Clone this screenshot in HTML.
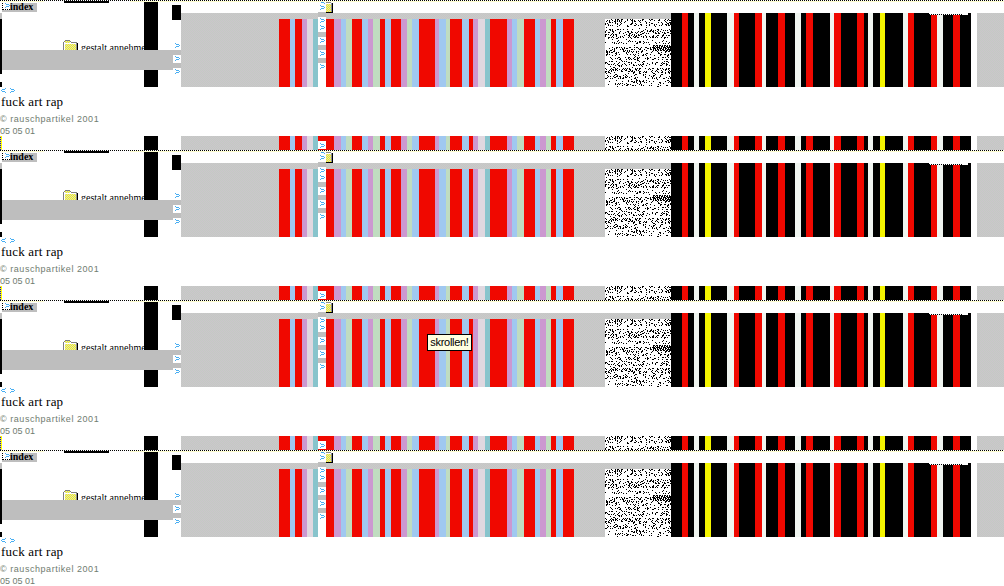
<!DOCTYPE html>
<html><head><meta charset="utf-8"><title>fuck art rap</title>
<style>
html,body{margin:0;padding:0;background:#fff;}
body{width:1004px;height:586px;overflow:hidden;position:relative;font-family:"Liberation Serif",serif;}
.t{position:relative;width:1004px;height:150px;overflow:hidden;}
.t i,.t span,.t svg{position:absolute;display:block;}
.dot{left:0;top:0;width:1004px;height:1px;background:repeating-linear-gradient(90deg,#000 0 1px,#fff 1px 2px);}
.yl{left:1px;top:1px;width:1003px;height:1px;background:linear-gradient(90deg,#ffffd0 0 43px,#fff 43px 129px,#ffffd0 129px);}
.bl{left:64px;top:1px;width:45px;height:2px;background:#000;}
.g1{left:181px;top:13px;width:823px;height:74px;background:repeating-conic-gradient(#ccc5cc 0 25%,#c3cbc3 0 50%) 0 0/2px 2px;}
.g2{left:181px;top:136px;width:823px;height:14px;background:repeating-conic-gradient(#ccc5cc 0 25%,#c3cbc3 0 50%) 0 0/2px 2px;}
.c1{left:279px;top:19px;width:295px;height:68px;background:linear-gradient(90deg,#f00800 0px 11px,#a0c8f0 11px 16px,#f00800 16px 23px,#cc98d0 23px 28px,#e0d8e0 28px 34px,#88c4cc 34px 39px,transparent 39px 47px,#f00800 47px 55px,#cc98d0 55px 62px,#a0c8f0 62px 67px,#c0dcc0 67px 73px,#f00800 73px 83px,#a0c8f0 83px 89px,#cc98d0 89px 94px,#c0dcc0 94px 101px,#f00800 101px 106px,#a0c8f0 106px 112px,#f00800 112px 122px,#cc98d0 122px 128px,#c0dcc0 128px 133px,#a0c8f0 133px 140px,#f00800 140px 156px,#cc98d0 156px 160px,#a0c8f0 160px 167px,#c0dcc0 167px 171px,#f00800 171px 183px,#a0c8f0 183px 190px,#f00800 190px 194px,#cc98d0 194px 199px,#e0d8e0 199px 206px,#88c4cc 206px 211px,#f00800 211px 228px,#cc98d0 228px 233px,#a0c8f0 233px 238px,#c0dcc0 238px 245px,#f00800 245px 256px,#a0c8f0 256px 261px,#cc98d0 261px 267px,#c0dcc0 267px 272px,#f00800 272px 277px,#a0c8f0 277px 284px,#f00800 284px 295px);}
.c2{left:279px;top:136px;width:295px;height:14px;background:linear-gradient(90deg,#f00800 0px 11px,#a0c8f0 11px 16px,#f00800 16px 23px,#cc98d0 23px 28px,#e0d8e0 28px 34px,#88c4cc 34px 39px,#f00800 39px 47px,#f00800 47px 55px,#cc98d0 55px 62px,#a0c8f0 62px 67px,#c0dcc0 67px 73px,#f00800 73px 83px,#a0c8f0 83px 89px,#cc98d0 89px 94px,#c0dcc0 94px 101px,#f00800 101px 106px,#a0c8f0 106px 112px,#f00800 112px 122px,#cc98d0 122px 128px,#c0dcc0 128px 133px,#a0c8f0 133px 140px,#f00800 140px 156px,#cc98d0 156px 160px,#a0c8f0 160px 167px,#c0dcc0 167px 171px,#f00800 171px 183px,#a0c8f0 183px 190px,#f00800 190px 194px,#cc98d0 194px 199px,#e0d8e0 199px 206px,#88c4cc 206px 211px,#f00800 211px 228px,#cc98d0 228px 233px,#a0c8f0 233px 238px,#c0dcc0 238px 245px,#f00800 245px 256px,#a0c8f0 256px 261px,#cc98d0 261px 267px,#c0dcc0 267px 272px,#f00800 272px 277px,#a0c8f0 277px 284px,#f00800 284px 295px);}
.k1{left:671px;top:13px;width:306px;height:74px;background:linear-gradient(90deg,#000 0px 11px,#f00800 11px 17px,#000 17px 23px,#f0f5f0 23px 28px,#000 28px 34px,#f5f500 34px 40px,#000 40px 56px,#f0f5f0 56px 63px,#f00800 63px 68px,#000 68px 84px,#f00800 84px 91px,#f0f5f0 91px 95px,#000 95px 107px,#f00800 107px 114px,#000 114px 124px,#f0f5f0 124px 130px,#000 130px 135px,#f00800 135px 142px,#000 142px 159px,#f0f5f0 159px 163px,#f00800 163px 170px,#000 170px 186px,#f00800 186px 193px,#000 193px 197px,#f0f5f0 197px 202px,#000 202px 209px,#f5f500 209px 214px,#000 214px 232px,#f0f5f0 232px 237px,#f00800 237px 243px,#000 243px 260px,#f00800 260px 266px,#f0f5f0 266px 272px,#000 272px 282px,#f00800 282px 289px,#000 289px 300px,#fff 300px 306px);}
.k2{left:671px;top:136px;width:306px;height:14px;background:linear-gradient(90deg,#000 0px 11px,#f00800 11px 17px,#000 17px 23px,#f0f5f0 23px 28px,#000 28px 34px,#f5f500 34px 40px,#000 40px 56px,#f0f5f0 56px 63px,#f00800 63px 68px,#000 68px 84px,#f00800 84px 91px,#f0f5f0 91px 95px,#000 95px 107px,#f00800 107px 114px,#000 114px 124px,#f0f5f0 124px 130px,#000 130px 135px,#f00800 135px 142px,#000 142px 159px,#f0f5f0 159px 163px,#f00800 163px 170px,#000 170px 186px,#f00800 186px 193px,#000 193px 197px,#f0f5f0 197px 202px,#000 202px 209px,#f5f500 209px 214px,#000 214px 232px,#f0f5f0 232px 237px,#f00800 237px 243px,#000 243px 260px,#f00800 260px 266px,#f0f5f0 266px 272px,#000 272px 282px,#f00800 282px 289px,#000 289px 300px,#fff 300px 306px);}
.nz{left:605px;top:19px;background:#fff;}
.nz2{left:605px;top:136px;background:#fff;}
.wl{left:929px;top:13px;width:39px;height:2px;background:linear-gradient(#fff,#fff) 0 0/39px 1px no-repeat,linear-gradient(#fff,#fff) 34px 1px/5px 1px no-repeat,repeating-linear-gradient(90deg,#000 0 1px,#fff 1px 2px) 0 1px/34px 1px no-repeat;}
.bar{left:144px;top:2px;width:14px;height:85px;background:#000;}
.bar2{left:144px;top:136px;width:14px;height:14px;background:#000;}
.sq{left:172px;top:5px;width:9px;height:15px;background:#000;}
.lg{left:0;top:13px;width:2px;height:6px;background:#c0c0c0;}
.lb{left:0;top:19px;width:2px;height:55px;background:#000;}
.lb2{left:0;top:82px;width:2px;height:5px;background:#000;}
.yb{left:0;top:136px;width:2px;height:14px;background:repeating-linear-gradient(180deg,#ff0 0 1px,#00f 1px 2px);border-right:1px solid #ff0;width:1px;}
.band{left:2px;top:50px;width:179px;height:20px;background:#bebebe;}
.wc{left:173px;top:55px;width:8px;height:8px;background:#fff;box-shadow:0 13px 0 #fff;}
.wc2{left:318px;top:12px;width:8px;height:75px;background:linear-gradient(180deg,#bebebe 0 5px,#fff 5px 20px,#bebebe 20px 25px,#fff 25px 33px,#bebebe 33px 38px,#fff 38px 46px,#bebebe 46px 51px,#fff 51px 75px);}
.idx{left:2px;top:3px;width:35px;height:9px;background:#bebebe;font:bold 10px/7px "Liberation Serif",serif;color:#000;text-indent:8px;white-space:nowrap;}
.ib{position:absolute;left:0;top:0;width:7px;height:6px;background:#fff;border:1px dotted #000;border-top:0;border-right:0;}
.a{color:#4aa8f0;font:11px/11px "Liberation Sans",sans-serif;}
.fold{left:63px;top:40px;}
.yi{left:326px;top:2px;}
.q{overflow:visible;}
.ga{left:81px;top:42px;width:63px;height:8px;overflow:hidden;font:10px/12px "Liberation Serif",serif;white-space:nowrap;color:#000;}
.fi{left:318px;top:141px;width:8px;height:8px;background:#fff;}
.h{left:1px;top:94px;font:13px/16px "Liberation Serif",serif;color:#000;white-space:nowrap;letter-spacing:.2px;}
.cp{left:0;top:113px;font:9px/12px "Liberation Sans",sans-serif;color:#707c70;white-space:nowrap;letter-spacing:.55px;}
.dt{left:0;top:125px;font:9px/12px "Liberation Sans",sans-serif;color:#707c70;white-space:nowrap;}
.tip{position:absolute;left:427px;top:334px;width:43px;height:15px;border:1px solid #000;background:#ffffe1;font:11px/15px "Liberation Sans",sans-serif;color:#000;text-align:center;white-space:nowrap;letter-spacing:-.3px;z-index:5;}
</style></head><body>
<svg width="0" height="0" style="position:absolute"><defs><pattern id="yd" width="2" height="2" patternUnits="userSpaceOnUse"><rect width="2" height="2" fill="#ffff00"/><rect x="1" y="1" width="1" height="1" fill="#d0d0d8"/><rect x="0" y="0" width="1" height="1" fill="#d0d0d8"/></pattern><path id="gt" d="M0 0h1v1h-1zM1 1h3v1h-3zM4 2h1v1h-1zM1 3h3v1h-3zM0 4h1v1h-1z" fill="#48aef2" shape-rendering="crispEdges"/><path id="lt" d="M4 0h1v1h-1zM1 1h3v1h-3zM0 2h1v1h-1zM1 3h3v1h-3zM4 4h1v1h-1z" fill="#48aef2" shape-rendering="crispEdges"/><path id="nz" d="M6 0h1M10 0h1M12 0h2M16 0h2M22 0h1M25 0h1M27 0h1M37 0h2M44 0h1M46 0h2M54 0h1M60 0h1M63 0h1M2 1h1M4 1h1M7 1h1M10 1h1M12 1h1M14 1h1M16 1h1M22 1h1M26 1h2M29 1h1M33 1h1M35 1h1M37 1h1M45 1h1M49 1h1M53 1h2M59 1h1M62 1h1M64 1h2M1 2h1M4 2h1M9 2h2M12 2h1M14 2h1M16 2h1M20 2h1M27 2h1M29 2h2M34 2h1M40 2h1M60 2h1M4 3h2M7 3h1M10 3h1M15 3h1M19 3h1M27 3h1M35 3h1M41 3h1M44 3h1M53 3h1M56 3h1M61 3h1M64 3h2M0 4h1M2 4h1M10 4h1M12 4h1M16 4h1M26 4h2M30 4h1M41 4h1M46 4h2M57 4h1M62 4h2M65 4h2M0 5h1M3 5h1M12 5h1M15 5h1M25 5h2M31 5h1M35 5h2M44 5h1M49 5h1M51 5h1M57 5h1M60 5h2M63 5h1M65 5h1M3 6h1M5 6h1M7 6h1M14 6h1M22 6h1M29 6h2M33 6h1M36 6h1M41 6h1M44 6h1M49 6h1M54 6h1M56 6h1M61 6h1M63 6h2M12 7h1M22 7h2M50 7h1M1 8h1M41 8h1M34 9h1M4 10h2M7 10h1M12 10h2M15 10h1M18 10h1M22 10h1M27 10h1M40 10h1M46 10h1M52 10h2M56 10h1M64 10h1M1 11h1M5 11h1M7 11h1M10 11h1M38 11h1M42 11h1M45 11h2M48 11h1M50 11h1M53 11h1M58 11h1M60 11h1M62 11h1M65 11h1M0 12h1M7 12h2M15 12h1M22 12h2M26 12h1M33 12h1M36 12h2M42 12h1M44 12h2M47 12h2M52 12h1M55 12h1M65 12h2M0 13h1M3 13h2M8 13h1M14 13h1M20 13h1M23 13h1M26 13h2M30 13h1M32 13h1M35 13h1M39 13h1M48 13h1M50 13h1M53 13h1M57 13h1M59 13h1M62 13h2M7 14h1M14 14h1M18 14h1M24 14h2M31 14h1M37 14h2M41 14h1M43 14h1M50 14h2M53 14h2M59 14h2M65 14h2M0 15h2M3 15h1M6 15h1M8 15h1M10 15h2M21 15h1M24 15h1M27 15h1M29 15h1M33 15h1M35 15h2M58 15h1M0 16h1M5 16h1M8 16h1M11 16h1M19 16h1M23 16h2M26 16h1M29 16h1M31 16h1M33 16h2M40 16h1M48 16h1M52 16h2M57 16h2M61 16h1M63 16h2M0 17h1M7 17h1M11 17h1M15 17h1M17 17h1M24 17h1M28 17h1M30 17h2M36 17h1M38 17h1M41 17h1M44 17h1M47 17h2M51 17h1M57 17h1M3 18h2M6 18h1M8 18h1M13 18h1M15 18h1M18 18h1M23 18h1M25 18h1M29 18h2M32 18h2M38 18h1M41 18h1M45 18h1M47 18h2M50 18h1M52 18h1M56 18h1M59 18h2M62 18h1M3 19h1M11 19h2M26 19h1M59 19h1M7 20h1M21 20h1M42 20h1M13 21h1M24 21h1M47 21h1M58 21h1M12 22h1M23 22h1M25 22h1M27 22h1M30 22h1M34 22h2M38 22h1M57 22h1M61 22h1M0 23h1M7 23h1M9 23h1M14 23h1M16 23h1M32 23h1M34 23h2M39 23h1M41 23h1M43 23h1M50 23h1M54 23h1M64 23h1M9 24h1M11 24h1M13 24h1M18 24h1M21 24h1M31 24h2M38 24h1M51 24h1M58 24h1M60 24h1M63 24h1M44 25h1M29 26h1M7 28h1M11 28h2M14 28h1M16 28h1M19 28h1M24 28h2M29 28h1M31 28h2M36 28h1M40 28h2M45 28h1M47 28h1M4 29h1M9 29h1M11 29h1M17 29h1M19 29h1M21 29h2M33 29h1M35 29h1M42 29h2M45 29h1M7 30h1M9 30h1M15 30h1M17 30h2M26 30h2M29 30h1M34 30h2M39 30h1M45 30h2M1 31h1M5 31h2M9 31h1M18 31h1M20 31h1M22 31h1M24 31h1M37 31h1M41 31h1M1 32h2M4 32h1M8 32h2M18 32h2M22 32h1M24 32h1M26 32h1M28 32h1M31 32h1M33 32h1M36 32h2M47 32h1M52 32h1M60 32h2M63 32h2M1 33h2M4 33h1M6 33h2M11 33h1M13 33h1M21 33h1M23 33h1M27 33h1M31 33h1M36 33h1M46 33h1M53 33h1M56 33h1M60 33h1M2 34h1M10 34h2M21 34h1M33 34h1M41 34h2M53 34h2M65 34h1M1 35h2M4 35h1M11 35h1M14 35h1M22 35h1M25 35h1M28 35h1M30 35h1M38 35h1M40 35h1M45 35h1M55 35h2M59 35h2M63 35h1M65 35h1M1 36h1M7 36h1M10 36h1M29 36h1M33 36h1M37 36h2M41 36h1M49 36h1M55 36h1M62 36h2M30 37h1M62 37h1M5 38h1M13 38h2M20 38h1M23 38h2M29 38h1M32 38h1M34 38h1M42 38h1M45 38h1M53 38h1M57 38h2M60 38h1M63 38h1M6 39h1M10 39h1M12 39h1M15 39h1M23 39h1M25 39h1M28 39h1M32 39h2M40 39h1M42 39h2M49 39h2M7 40h1M14 40h2M21 40h1M24 40h1M26 40h1M29 40h2M32 40h1M42 40h1M47 40h2M53 40h1M57 40h1M61 40h2M65 40h1M16 41h1M32 41h2M4 42h1M6 42h2M11 42h1M17 42h1M19 42h1M21 42h1M34 42h1M38 42h2M59 42h1M61 42h2M0 43h2M14 43h1M23 43h2M26 43h1M30 43h1M37 43h1M47 43h1M51 43h2M57 43h1M63 43h1M0 44h1M2 44h1M9 44h1M13 44h1M19 44h1M26 44h1M38 44h1M42 44h1M47 44h1M50 44h1M56 44h1M58 44h2M61 44h1M3 45h2M6 45h1M8 45h1M12 45h1M17 45h1M20 45h1M24 45h1M28 45h1M33 45h1M35 45h1M37 45h2M44 45h1M50 45h1M57 45h1M61 45h2M10 46h1M13 46h2M16 46h1M21 46h1M28 46h2M31 46h1M34 46h1M36 46h1M41 46h1M55 46h2M61 46h1M64 46h1M5 47h1M14 47h1M16 47h1M37 47h1M8 48h2M27 48h1M0 49h1M6 49h1M10 49h1M12 49h1M18 49h1M20 49h1M22 49h1M24 49h1M30 49h1M32 49h1M34 49h2M40 49h1M44 49h1M47 49h2M52 49h1M55 49h1M57 49h1M61 49h1M63 49h2M1 50h1M5 50h1M7 50h2M10 50h2M14 50h1M17 50h1M19 50h1M21 50h1M24 50h2M30 50h2M34 50h1M43 50h1M45 50h1M52 50h2M58 50h1M60 50h2M63 50h1M4 51h1M6 51h1M8 51h1M10 51h1M12 51h1M16 51h1M20 51h2M25 51h1M27 51h1M31 51h1M33 51h1M47 51h1M51 51h1M56 51h1M60 51h1M64 51h1M0 52h2M3 52h1M6 52h1M16 52h2M23 52h2M26 52h2M29 52h1M34 52h2M39 52h1M41 52h1M46 52h1M50 52h1M52 52h1M57 52h1M63 52h1M65 52h1M0 53h1M3 53h2M9 53h1M28 53h2M34 53h1M38 53h1M40 53h2M47 53h1M53 53h1M56 53h2M60 53h1M63 53h2M1 54h1M5 54h1M23 54h1M28 54h1M34 54h2M48 54h2M60 54h1M64 54h1M10 55h2M20 55h1M30 55h2M38 55h1M40 55h1M50 55h1M56 55h2M2 56h1M9 56h1M12 56h1M18 56h1M21 56h1M29 56h1M38 56h1M44 56h1M48 56h2M55 56h1M3 57h1M5 57h1M8 57h1M11 57h2M14 57h2M20 57h1M22 57h1M26 57h1M40 57h1M46 57h1M48 57h1M55 57h1M64 57h1M2 58h1M9 58h2M15 58h1M18 58h1M20 58h2M24 58h1M30 58h1M32 58h1M40 58h1M47 58h1M51 58h1M54 58h1M61 58h1M65 58h1M0 59h2M5 59h1M7 59h1M13 59h1M15 59h1M17 59h2M29 59h2M43 59h1M47 59h1M49 59h1M51 59h1M58 59h2M63 59h1M65 59h1M26 60h1M31 60h1M52 60h1M11 61h1M23 61h1M31 61h2M34 61h1M38 61h1M41 61h1M62 61h2M4 62h1M17 62h1M23 62h1M26 62h2M29 62h1M31 62h1M34 62h2M37 62h2M44 62h1M48 62h1M60 62h1M64 62h1M28 63h2M31 63h1M35 63h1M39 63h1M41 63h1M54 63h2M63 63h1M65 63h1M10 64h1M13 64h1M15 64h1M17 64h1M21 64h1M32 64h1M35 64h1M46 64h1M55 64h1M58 64h1M3 65h1M10 65h1M12 65h1M14 65h1M19 65h1M22 65h2M25 65h1M34 65h1M36 65h1M53 65h1M17 66h1M21 66h2M27 66h2M30 66h1M36 66h1M38 66h1M44 66h1M46 66h1M55 66h1M61 66h2M12 67h1M52 67h2M48 26h1M49 26h1M51 26h1M52 26h1M54 26h1M55 26h1M57 26h1M59 26h1M60 26h1M62 26h1M64 26h1M48 27h1M50 27h1M52 27h1M54 27h1M56 27h1M57 27h1M59 27h1M61 27h1M62 27h1M64 27h1M65 27h1M48 28h1M49 28h1M51 28h1M52 28h1M53 28h1M54 28h1M56 28h1M58 28h1M59 28h1M60 28h1M62 28h1M63 28h1M64 28h1M65 28h1M48 29h1M49 29h1M50 29h1M52 29h1M54 29h1M55 29h1M56 29h1M58 29h1M60 29h1M61 29h1M63 29h1M65 29h1M48 30h1M50 30h1M52 30h1M53 30h1M55 30h1M57 30h1M58 30h1M60 30h1M62 30h1M63 30h1M64 30h1M65 30h1M48 31h1M50 31h1M51 31h1M53 31h1M55 31h1M56 31h1M58 31h1M59 31h1M61 31h1M62 31h1M64 31h1M65 31h1" stroke="#000" stroke-width="1" fill="none" transform="translate(0,.5)"/></defs></svg>
<div class="t">
<i class="dot"></i><i class="yl"></i><i class="bl"></i>
<i class="g1"></i><i class="g2"></i>
<i class="c1"></i><i class="c2"></i><i class="k1"></i><i class="k2"></i>
<svg class="nz" width="66" height="68" viewBox="0 0 66 68" shape-rendering="crispEdges"><use href="#nz"/></svg>
<svg class="nz2" width="66" height="14" viewBox="0 0 66 14" shape-rendering="crispEdges"><use href="#nz"/></svg>
<i class="wl"></i>
<i class="bar"></i><i class="bar2"></i><i class="sq"></i>
<i class="lg"></i><i class="lb"></i><i class="lb2"></i><i class="yb"></i>
<svg class="fold" width="16" height="10" viewBox="0 0 16 10" shape-rendering="crispEdges"><path d="M2 0h5v1h-5zM1 1h1v1h-1zM7 1h1v1h-1zM0 2h1v8h-1zM8 2h6v1h-6z" fill="#808080"/><path d="M1 2h1v8h-1zM2 3h11v1h-11z" fill="#fff"/><path d="M2 1h5v2h-5zM2 4h11v6h-11z" fill="url(#yd)"/><path d="M13 3h1v7h-1z" fill="#909090"/><path d="M14 3h1v7h-1z" fill="#000"/></svg>
<span class="ga">gestalt annehmen</span>
<i class="band"></i>
<i class="wc"></i><i class="wc2"></i><i class="fi"></i>
<span class="idx"><b class="ib"><svg style="left:2px;top:0" width="5" height="5"><use href="#gt"/></svg></b>index</span>
<svg class="q" style="left:175px;top:43px" width="5" height="5"><use href="#gt"/></svg><svg class="q" style="left:175px;top:56px" width="5" height="5"><use href="#gt"/></svg><svg class="q" style="left:175px;top:69px" width="5" height="5"><use href="#gt"/></svg><svg class="q" style="left:320px;top:5px" width="5" height="5"><use href="#gt"/></svg><svg class="q" style="left:320px;top:18px" width="5" height="5"><use href="#gt"/></svg><svg class="q" style="left:320px;top:25px" width="5" height="5"><use href="#gt"/></svg><svg class="q" style="left:320px;top:38px" width="5" height="5"><use href="#gt"/></svg><svg class="q" style="left:320px;top:51px" width="5" height="5"><use href="#gt"/></svg><svg class="q" style="left:320px;top:64px" width="5" height="5"><use href="#gt"/></svg><svg class="q" style="left:320px;top:143px" width="5" height="5"><use href="#gt"/></svg><svg class="q" style="left:1px;top:88px" width="5" height="5"><use href="#lt"/></svg><svg class="q" style="left:10px;top:88px" width="5" height="5"><use href="#gt"/></svg><svg class="q" style="left:320px;top:2px" width="5" height="2"><path d="M1 0h3v1h-3zM4 1h1v1h-1z" fill="#48aef2"/></svg>
<svg class="yi" width="7" height="11" viewBox="0 0 7 11" shape-rendering="crispEdges"><path d="M0 0h5v1h-5zM5 1h1v9h-1z" fill="#909090"/><path d="M0 1h5v1h-5z" fill="#fff"/><path d="M0 2h5v8h-5z" fill="url(#yd)"/><path d="M6 1h1v10h-1zM0 10h7v1h-7z" fill="#000"/></svg>
<span class="h">fuck art rap</span>
<span class="cp">&copy; rauschpartikel 2001</span>
<span class="dt">05 05 01</span>
</div>
<div class="t">
<i class="dot"></i><i class="yl"></i><i class="bl"></i>
<i class="g1"></i><i class="g2"></i>
<i class="c1"></i><i class="c2"></i><i class="k1"></i><i class="k2"></i>
<svg class="nz" width="66" height="68" viewBox="0 0 66 68" shape-rendering="crispEdges"><use href="#nz"/></svg>
<svg class="nz2" width="66" height="14" viewBox="0 0 66 14" shape-rendering="crispEdges"><use href="#nz"/></svg>
<i class="wl"></i>
<i class="bar"></i><i class="bar2"></i><i class="sq"></i>
<i class="lg"></i><i class="lb"></i><i class="lb2"></i><i class="yb"></i>
<svg class="fold" width="16" height="10" viewBox="0 0 16 10" shape-rendering="crispEdges"><path d="M2 0h5v1h-5zM1 1h1v1h-1zM7 1h1v1h-1zM0 2h1v8h-1zM8 2h6v1h-6z" fill="#808080"/><path d="M1 2h1v8h-1zM2 3h11v1h-11z" fill="#fff"/><path d="M2 1h5v2h-5zM2 4h11v6h-11z" fill="url(#yd)"/><path d="M13 3h1v7h-1z" fill="#909090"/><path d="M14 3h1v7h-1z" fill="#000"/></svg>
<span class="ga">gestalt annehmen</span>
<i class="band"></i>
<i class="wc"></i><i class="wc2"></i><i class="fi"></i>
<span class="idx"><b class="ib"><svg style="left:2px;top:0" width="5" height="5"><use href="#gt"/></svg></b>index</span>
<svg class="q" style="left:175px;top:43px" width="5" height="5"><use href="#gt"/></svg><svg class="q" style="left:175px;top:56px" width="5" height="5"><use href="#gt"/></svg><svg class="q" style="left:175px;top:69px" width="5" height="5"><use href="#gt"/></svg><svg class="q" style="left:320px;top:5px" width="5" height="5"><use href="#gt"/></svg><svg class="q" style="left:320px;top:18px" width="5" height="5"><use href="#gt"/></svg><svg class="q" style="left:320px;top:25px" width="5" height="5"><use href="#gt"/></svg><svg class="q" style="left:320px;top:38px" width="5" height="5"><use href="#gt"/></svg><svg class="q" style="left:320px;top:51px" width="5" height="5"><use href="#gt"/></svg><svg class="q" style="left:320px;top:64px" width="5" height="5"><use href="#gt"/></svg><svg class="q" style="left:320px;top:143px" width="5" height="5"><use href="#gt"/></svg><svg class="q" style="left:1px;top:88px" width="5" height="5"><use href="#lt"/></svg><svg class="q" style="left:10px;top:88px" width="5" height="5"><use href="#gt"/></svg><svg class="q" style="left:320px;top:2px" width="5" height="2"><path d="M1 0h3v1h-3zM4 1h1v1h-1z" fill="#48aef2"/></svg>
<svg class="yi" width="7" height="11" viewBox="0 0 7 11" shape-rendering="crispEdges"><path d="M0 0h5v1h-5zM5 1h1v9h-1z" fill="#909090"/><path d="M0 1h5v1h-5z" fill="#fff"/><path d="M0 2h5v8h-5z" fill="url(#yd)"/><path d="M6 1h1v10h-1zM0 10h7v1h-7z" fill="#000"/></svg>
<span class="h">fuck art rap</span>
<span class="cp">&copy; rauschpartikel 2001</span>
<span class="dt">05 05 01</span>
</div>
<div class="t">
<i class="dot"></i><i class="yl"></i><i class="bl"></i>
<i class="g1"></i><i class="g2"></i>
<i class="c1"></i><i class="c2"></i><i class="k1"></i><i class="k2"></i>
<svg class="nz" width="66" height="68" viewBox="0 0 66 68" shape-rendering="crispEdges"><use href="#nz"/></svg>
<svg class="nz2" width="66" height="14" viewBox="0 0 66 14" shape-rendering="crispEdges"><use href="#nz"/></svg>
<i class="wl"></i>
<i class="bar"></i><i class="bar2"></i><i class="sq"></i>
<i class="lg"></i><i class="lb"></i><i class="lb2"></i><i class="yb"></i>
<svg class="fold" width="16" height="10" viewBox="0 0 16 10" shape-rendering="crispEdges"><path d="M2 0h5v1h-5zM1 1h1v1h-1zM7 1h1v1h-1zM0 2h1v8h-1zM8 2h6v1h-6z" fill="#808080"/><path d="M1 2h1v8h-1zM2 3h11v1h-11z" fill="#fff"/><path d="M2 1h5v2h-5zM2 4h11v6h-11z" fill="url(#yd)"/><path d="M13 3h1v7h-1z" fill="#909090"/><path d="M14 3h1v7h-1z" fill="#000"/></svg>
<span class="ga">gestalt annehmen</span>
<i class="band"></i>
<i class="wc"></i><i class="wc2"></i><i class="fi"></i>
<span class="idx"><b class="ib"><svg style="left:2px;top:0" width="5" height="5"><use href="#gt"/></svg></b>index</span>
<svg class="q" style="left:175px;top:43px" width="5" height="5"><use href="#gt"/></svg><svg class="q" style="left:175px;top:56px" width="5" height="5"><use href="#gt"/></svg><svg class="q" style="left:175px;top:69px" width="5" height="5"><use href="#gt"/></svg><svg class="q" style="left:320px;top:5px" width="5" height="5"><use href="#gt"/></svg><svg class="q" style="left:320px;top:18px" width="5" height="5"><use href="#gt"/></svg><svg class="q" style="left:320px;top:25px" width="5" height="5"><use href="#gt"/></svg><svg class="q" style="left:320px;top:38px" width="5" height="5"><use href="#gt"/></svg><svg class="q" style="left:320px;top:51px" width="5" height="5"><use href="#gt"/></svg><svg class="q" style="left:320px;top:64px" width="5" height="5"><use href="#gt"/></svg><svg class="q" style="left:320px;top:143px" width="5" height="5"><use href="#gt"/></svg><svg class="q" style="left:1px;top:88px" width="5" height="5"><use href="#lt"/></svg><svg class="q" style="left:10px;top:88px" width="5" height="5"><use href="#gt"/></svg><svg class="q" style="left:320px;top:2px" width="5" height="2"><path d="M1 0h3v1h-3zM4 1h1v1h-1z" fill="#48aef2"/></svg>
<svg class="yi" width="7" height="11" viewBox="0 0 7 11" shape-rendering="crispEdges"><path d="M0 0h5v1h-5zM5 1h1v9h-1z" fill="#909090"/><path d="M0 1h5v1h-5z" fill="#fff"/><path d="M0 2h5v8h-5z" fill="url(#yd)"/><path d="M6 1h1v10h-1zM0 10h7v1h-7z" fill="#000"/></svg>
<span class="h">fuck art rap</span>
<span class="cp">&copy; rauschpartikel 2001</span>
<span class="dt">05 05 01</span>
</div>
<div class="t">
<i class="dot"></i><i class="yl"></i><i class="bl"></i>
<i class="g1"></i><i class="g2"></i>
<i class="c1"></i><i class="c2"></i><i class="k1"></i><i class="k2"></i>
<svg class="nz" width="66" height="68" viewBox="0 0 66 68" shape-rendering="crispEdges"><use href="#nz"/></svg>
<svg class="nz2" width="66" height="14" viewBox="0 0 66 14" shape-rendering="crispEdges"><use href="#nz"/></svg>
<i class="wl"></i>
<i class="bar"></i><i class="bar2"></i><i class="sq"></i>
<i class="lg"></i><i class="lb"></i><i class="lb2"></i><i class="yb"></i>
<svg class="fold" width="16" height="10" viewBox="0 0 16 10" shape-rendering="crispEdges"><path d="M2 0h5v1h-5zM1 1h1v1h-1zM7 1h1v1h-1zM0 2h1v8h-1zM8 2h6v1h-6z" fill="#808080"/><path d="M1 2h1v8h-1zM2 3h11v1h-11z" fill="#fff"/><path d="M2 1h5v2h-5zM2 4h11v6h-11z" fill="url(#yd)"/><path d="M13 3h1v7h-1z" fill="#909090"/><path d="M14 3h1v7h-1z" fill="#000"/></svg>
<span class="ga">gestalt annehmen</span>
<i class="band"></i>
<i class="wc"></i><i class="wc2"></i><i class="fi"></i>
<span class="idx"><b class="ib"><svg style="left:2px;top:0" width="5" height="5"><use href="#gt"/></svg></b>index</span>
<svg class="q" style="left:175px;top:43px" width="5" height="5"><use href="#gt"/></svg><svg class="q" style="left:175px;top:56px" width="5" height="5"><use href="#gt"/></svg><svg class="q" style="left:175px;top:69px" width="5" height="5"><use href="#gt"/></svg><svg class="q" style="left:320px;top:5px" width="5" height="5"><use href="#gt"/></svg><svg class="q" style="left:320px;top:18px" width="5" height="5"><use href="#gt"/></svg><svg class="q" style="left:320px;top:25px" width="5" height="5"><use href="#gt"/></svg><svg class="q" style="left:320px;top:38px" width="5" height="5"><use href="#gt"/></svg><svg class="q" style="left:320px;top:51px" width="5" height="5"><use href="#gt"/></svg><svg class="q" style="left:320px;top:64px" width="5" height="5"><use href="#gt"/></svg><svg class="q" style="left:320px;top:143px" width="5" height="5"><use href="#gt"/></svg><svg class="q" style="left:1px;top:88px" width="5" height="5"><use href="#lt"/></svg><svg class="q" style="left:10px;top:88px" width="5" height="5"><use href="#gt"/></svg><svg class="q" style="left:320px;top:2px" width="5" height="2"><path d="M1 0h3v1h-3zM4 1h1v1h-1z" fill="#48aef2"/></svg>
<svg class="yi" width="7" height="11" viewBox="0 0 7 11" shape-rendering="crispEdges"><path d="M0 0h5v1h-5zM5 1h1v9h-1z" fill="#909090"/><path d="M0 1h5v1h-5z" fill="#fff"/><path d="M0 2h5v8h-5z" fill="url(#yd)"/><path d="M6 1h1v10h-1zM0 10h7v1h-7z" fill="#000"/></svg>
<span class="h">fuck art rap</span>
<span class="cp">&copy; rauschpartikel 2001</span>
<span class="dt">05 05 01</span>
</div>
<div class="tip">skrollen!</div>
</body></html>
